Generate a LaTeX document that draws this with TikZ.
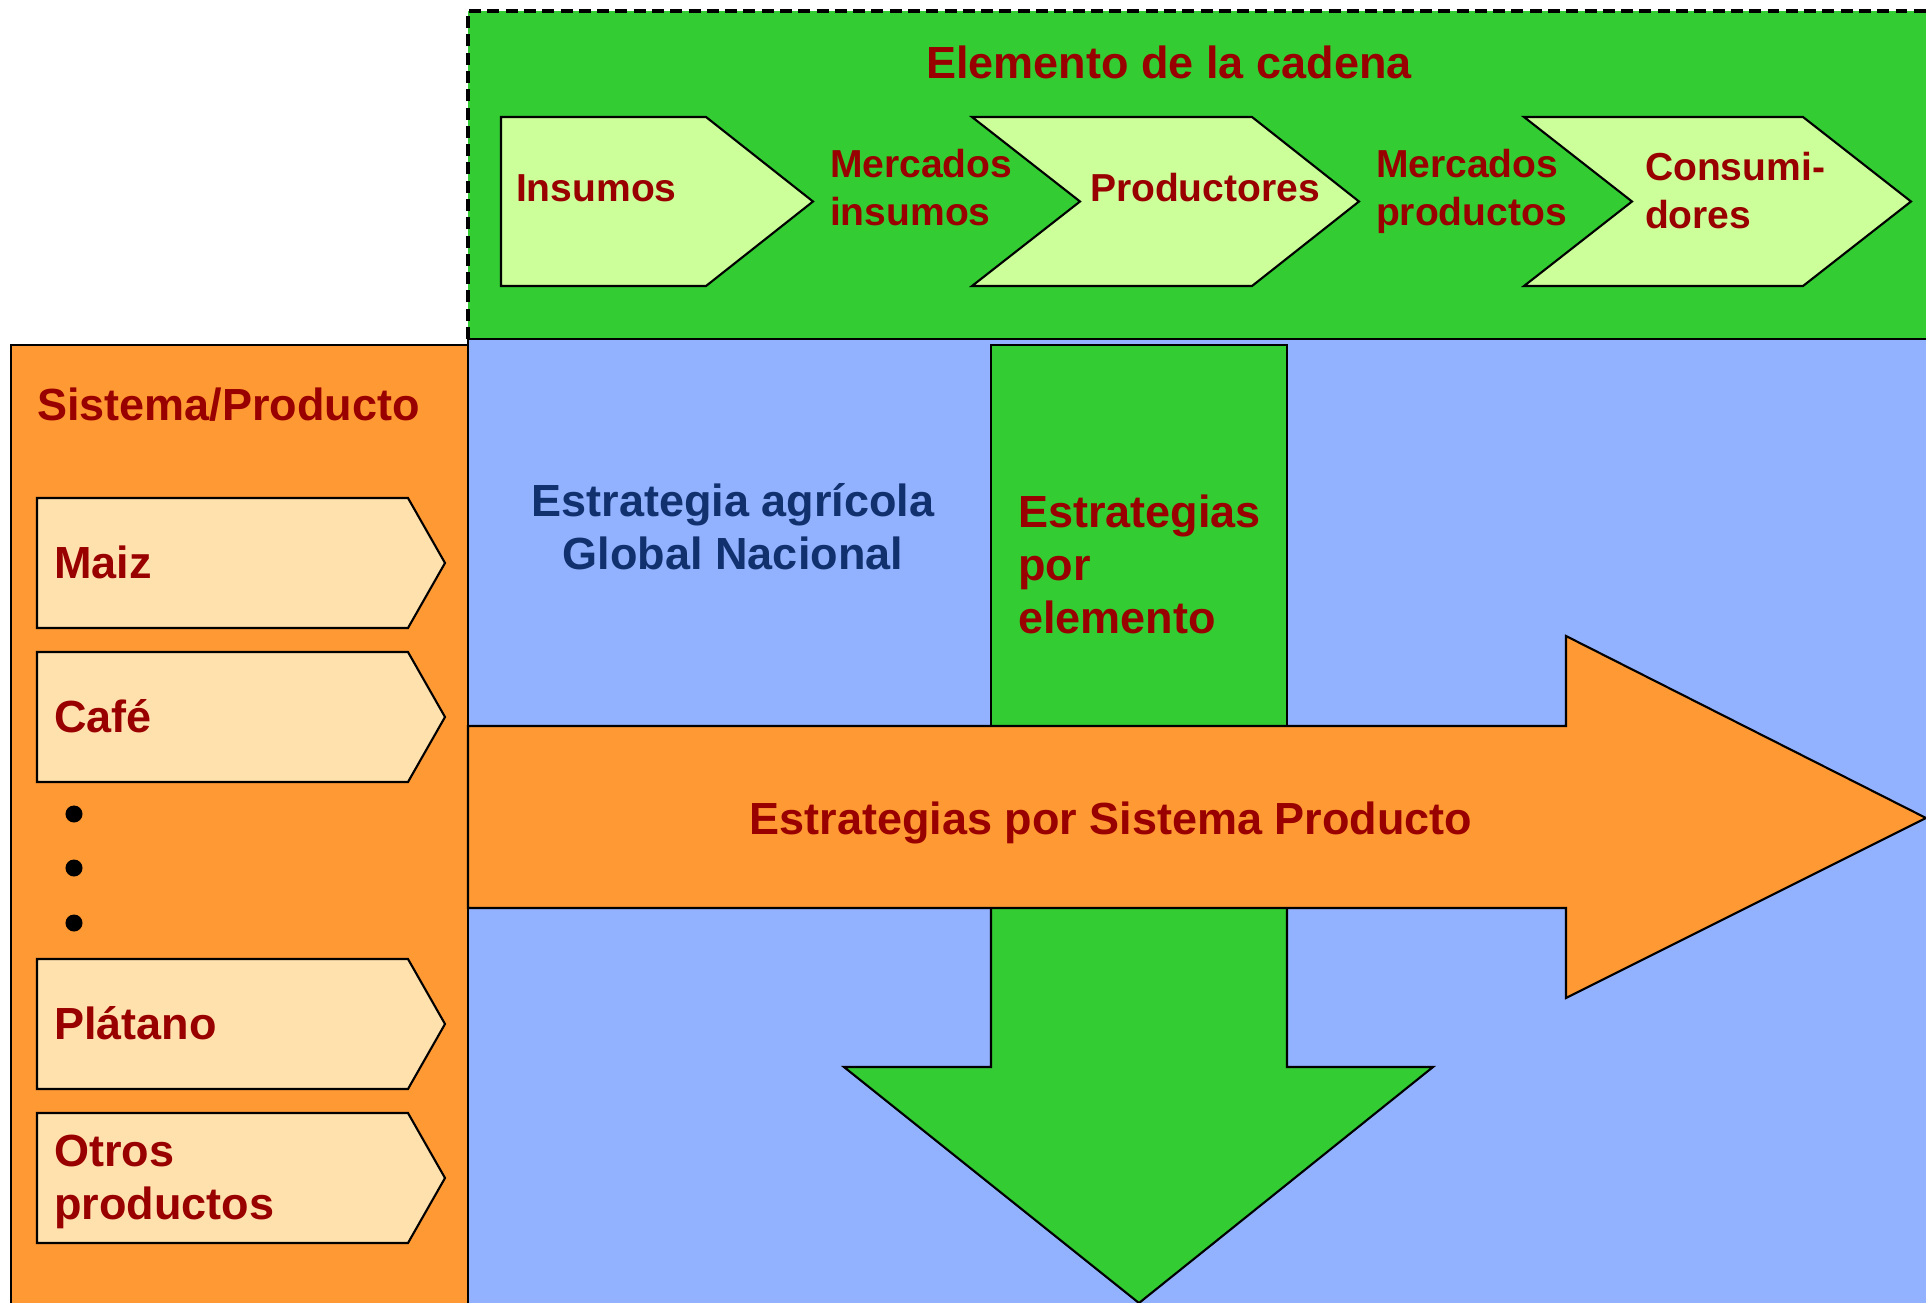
\documentclass[tikz,border=0pt]{standalone}
\usepackage{fontspec}
\setmainfont{Liberation Sans}
\usetikzlibrary{positioning}

\definecolor{cadgreen}{RGB}{51,204,51}
\definecolor{palegreen}{RGB}{204,255,153}
\definecolor{sporange}{RGB}{255,153,51}
\definecolor{palebeige}{RGB}{255,225,173}
\definecolor{fieldblue}{RGB}{146,177,255}
\definecolor{darkred}{RGB}{153,0,0}
\definecolor{navyblue}{RGB}{17,48,110}

\begin{document}
\begin{tikzpicture}[x=0.01cm, y=-0.01cm, line width=0.6pt,
  chaintext/.style={font=\fontsize{11.1}{13.4}\selectfont\bfseries, text=darkred, inner sep=0pt, align=left},
  bigtext/.style={font=\fontsize{12.8}{15}\selectfont\bfseries, text=darkred, inner sep=0pt, align=left}]

\useasboundingbox (0,0) rectangle (1926,1303);

% fondo azul
\fill[fieldblue] (468,339) rectangle (1926,1303);
\draw (1926,339) -- (468,339) -- (468,1303);

% elemento de la cadena
\fill[cadgreen] (468,11) rectangle (1926,339);
\draw[line width=1pt, dash pattern=on 3.4pt off 1.8pt] (468,339) -- (468,11) -- (1926,11);
\draw (468,339) -- (1926,339);

% sistema/producto
\draw[fill=sporange] (11,1310) -- (11,345) -- (468,345) -- (468,1310);

% estrategias por elemento
\draw[fill=cadgreen] (991,345) rectangle (1287,726);
\draw[fill=cadgreen] (991,908) -- (991,1067) -- (844,1067) -- (1139,1303) -- (1433,1067) -- (1287,1067) -- (1287,908);

% estrategias por sistema producto
\draw[fill=sporange] (468,726) -- (1566,726) -- (1566,636) -- (1926,818) -- (1566,998) -- (1566,908) -- (468,908) -- cycle;

% cadena
\draw[fill=palegreen] (501,117) -- (706,117) -- (813,201.5) -- (706,286) -- (501,286) -- cycle;
\draw[fill=palegreen] (972,117) -- (1252,117) -- (1359,201.5) -- (1252,286) -- (972,286) -- (1080,201.5) -- cycle;
\draw[fill=palegreen] (1524,117) -- (1803,117) -- (1911,201.5) -- (1803,286) -- (1524,286) -- (1632,201.5) -- cycle;

% productos
\foreach \t in {498,652,959,1113}
  \draw[fill=palebeige] (37,\t) -- (408,\t) -- (445,\t+65) -- (408,\t+130) -- (37,\t+130) -- cycle;
\foreach \y in {814,868,923}
  \fill (74,\y) circle[radius=0.085cm];

\node[bigtext, anchor=base] (cadena) at (1169,78) {Elemento de la cadena};
\node[chaintext, anchor=base west] (insumos) at (515,202) {Insumos};
\node[chaintext, anchor=base west] (mercins) at (829,225) {Mercados\\insumos};
\node[chaintext, anchor=base west] (productores) at (1089,202) {Productores};
\node[chaintext, anchor=base west] (mercprod) at (1375,225) {Mercados\\productos};
\node[chaintext, anchor=base west] (consumidores) at (1644,228) {Consumi-\\dores};

\node[bigtext, anchor=base west] (sistema) at (36,420) {Sistema/Producto};
\node[bigtext, anchor=base west] (maiz) at (53,578) {Maiz};
\node[bigtext, anchor=base west] (cafe) at (53,732) {Café};
\node[bigtext, anchor=base west] (platano) at (53,1039) {Plátano};
\node[bigtext, anchor=base west] (otros) at (53,1219) {Otros\\productos};

\node[bigtext, text=navyblue, align=center, anchor=base] (global) at (733,569) {Estrategia agrícola\\Global Nacional};
\node[bigtext, anchor=base west] (porelemento) at (1017,633) {Estrategias\\por\\elemento};
\node[bigtext, anchor=base] (porsistema) at (1111,834) {Estrategias por Sistema Producto};

\end{tikzpicture}
\end{document}
